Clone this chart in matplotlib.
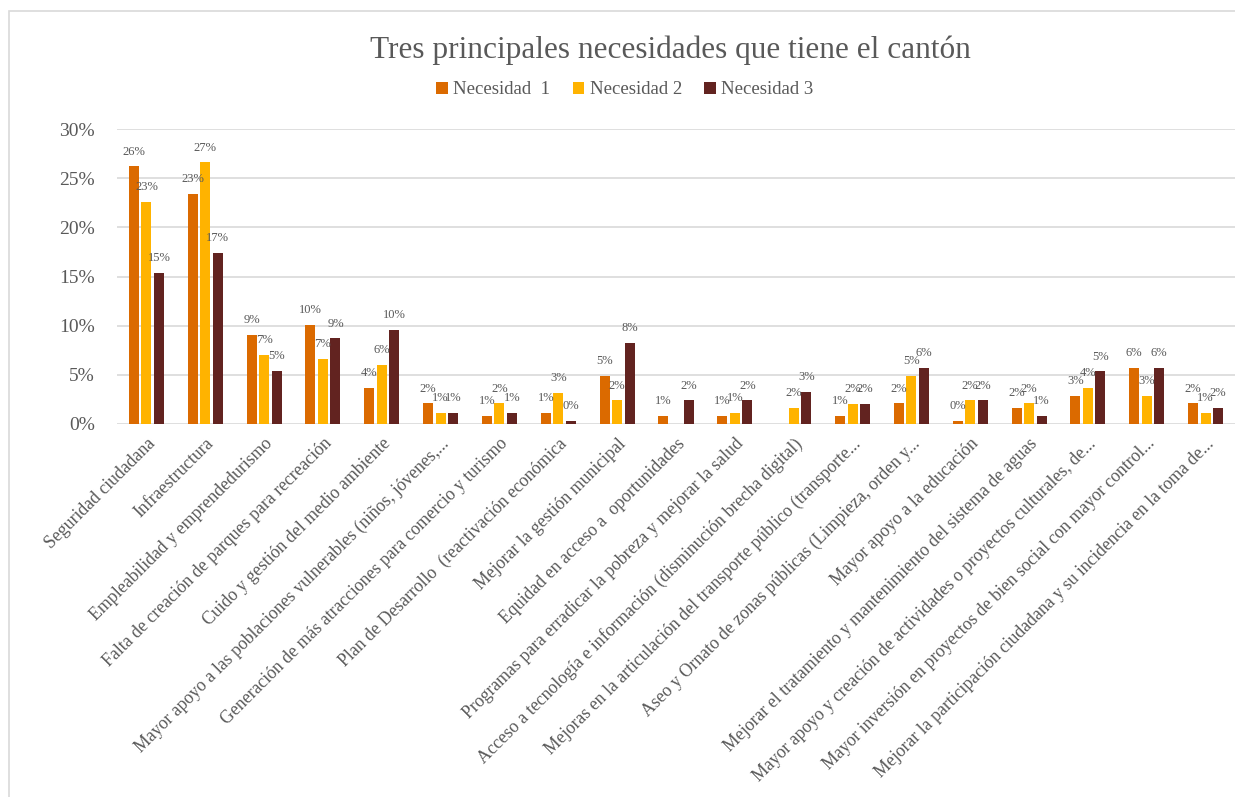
import numpy as np
import matplotlib
matplotlib.use('Agg')
import matplotlib.pyplot as plt
from matplotlib.patches import Rectangle

# data (percent of responses)
categorias = [
    'Seguridad ciudadana',
    'Infraestructura',
    'Empleabilidad y emprendedurismo',
    'Falta de creación de parques para recreación',
    'Cuido y gestión del medio ambiente',
    'Mayor apoyo a las poblaciones vulnerables (niños, jóvenes,...',
    'Generación de más atracciones para comercio y turismo',
    'Plan de Desarrollo  (reactivación económica',
    'Mejorar la gestión municipal',
    'Equidad en acceso a  oportunidades',
    'Programas para erradicar la pobreza y mejorar la salud',
    'Acceso a tecnología e información (disminución brecha digital)',
    'Mejoras en la articulación del transporte público (transporte...',
    'Aseo y Ornato de zonas públicas (Limpieza, orden y...',
    'Mayor apoyo a la educación',
    'Mejorar el tratamiento y mantenimiento del sistema de aguas',
    'Mayor apoyo y creación de actividades o proyectos culturales, de...',
    'Mayor inversión en proyectos de bien social con mayor control...',
    'Mejorar la participación ciudadana y su incidencia en la toma de...',
]
necesidad_1 = [26.2, 23.4, 9.1, 10.1, 3.7, 2.1, 0.85, 1.1, 4.9, 0.85,
               0.85, 0.0, 0.85, 2.1, 0.3, 1.6, 2.85, 5.7, 2.1]
necesidad_2 = [22.6, 26.6, 7.0, 6.6, 6.05, 1.1, 2.1, 3.15, 2.4, 0.0,
               1.1, 1.65, 2.05, 4.9, 2.4, 2.1, 3.7, 2.85, 1.1]
necesidad_3 = [15.4, 17.4, 5.4, 8.7, 9.6, 1.1, 1.1, 0.3, 8.25, 2.4,
               2.4, 3.3, 2.05, 5.7, 2.4, 0.8, 5.35, 5.7, 1.6]
series = ['Necesidad  1', 'Necesidad 2', 'Necesidad 3']
colores = ['#DB6A00', '#FFB300', '#622320']

gris = '#595959'
plt.rcParams['font.family'] = ['Liberation Serif', 'DejaVu Serif']

fig = plt.figure(figsize=(12.35, 7.97), dpi=100)
ax = fig.add_axes([117/1235, 373/797, 1 - 117/1235, 295/797])

# chart area outline
fig.add_artist(Rectangle((9/1235, -0.05), 1.2, 1 - 11/797 + 0.05,
                         transform=fig.transFigure, fill=False,
                         edgecolor='#D9D9D9', linewidth=1.2))

x = np.arange(len(categorias))
paso = 0.213
ancho = 0.17
for i, (vals, nombre, col) in enumerate(zip([necesidad_1, necesidad_2, necesidad_3],
                                            series, colores)):
    pos = x + (i - 1) * paso
    ax.bar(pos, vals, width=ancho, color=col, label=nombre, zorder=3)
    for p, v in zip(pos, vals):
        if v > 0:
            ax.text(p, v + 0.9, '{:.0f}%'.format(v), ha='center', va='bottom',
                    fontsize=9, color=gris, zorder=4)

ax.set_xlim(-0.5, len(categorias) - 0.5)
ax.set_ylim(0, 30)
ax.set_yticks(np.arange(0, 31, 5))
ax.set_yticklabels(['{}%'.format(t) for t in range(0, 31, 5)], fontsize=14, color=gris)
ax.yaxis.grid(True, color='#D9D9D9', linewidth=1.2, zorder=0)
ax.set_axisbelow(True)
for s in ax.spines.values():
    s.set_visible(False)
ax.tick_params(axis='both', length=0)
ax.tick_params(axis='y', pad=16)

ax.set_xticks(x)
ax.set_xticklabels(categorias, rotation=45, ha='right', rotation_mode='anchor',
                   fontsize=12.8, color=gris)
ax.tick_params(axis='x', pad=8)

fig.text(0.543, 0.937, 'Tres principales necesidades que tiene el cantón',
         ha='center', va='center', fontsize=22.5, color=gris)
ax.legend(loc='center', bbox_to_anchor=(625/1235, 1 - 90/797),
          bbox_transform=fig.transFigure, ncol=3, frameon=False,
          fontsize=13.5, labelcolor=gris, handlelength=0.6, handleheight=0.6,
          handletextpad=0.3, columnspacing=1.2)

fig.savefig('out.png', dpi=100)
